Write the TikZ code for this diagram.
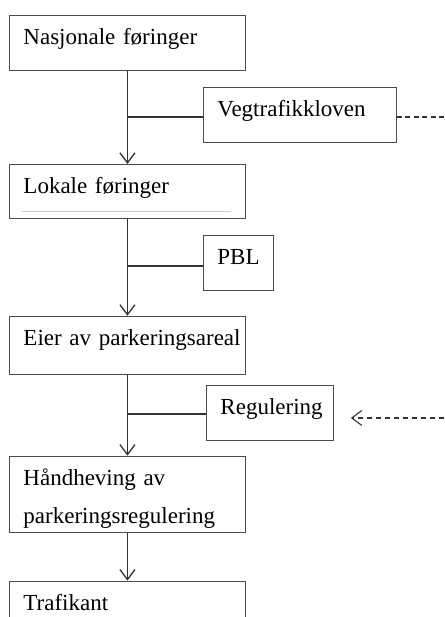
\documentclass[tikz,border=0pt]{standalone}
\usepackage{fontspec}
\setmainfont{Liberation Serif}
\usetikzlibrary{positioning}
\usetikzlibrary{arrows.meta}

\begin{document}
\begin{tikzpicture}[x=1pt, y=1pt, node distance=93pt,
    >={Straight Barb[length=10pt,width=15pt]},
    font=\fontsize{23}{38}\selectfont,
    box/.style={draw=black!70, line width=0.9pt, rectangle, align=left, inner xsep=14pt, inner ysep=0pt, text height=29pt},
    link/.style={draw=black!80, line width=1.3pt}]
    \useasboundingbox (0,0) rectangle (444,-617);
    \coordinate (rightedge) at (444,0);

    % Main chain
    \node (nasjonale) [box, anchor=north west, text width=208pt, text depth=26pt] at (9,-15) {Nasjonale føringer};
    \node (lokale) [box, below=93pt of nasjonale, text width=208pt, text depth=25pt] {Lokale føringer};
    \node (eier) [box, below=97pt of lokale, text width=208pt, text depth=29pt] {\makebox[208pt][l]{Eier av parkeringsareal}};
    \node (handheving) [box, below=81pt of eier, text width=208pt, text depth=47pt] {Håndheving av\\parkeringsregulering};
    \node (trafikant) [box, below=48pt of handheving, text width=208pt, text depth=60pt] {Trafikant};

    % Faint line in the second box
    \draw[black!20, line width=0.6pt] ([xshift=13pt, yshift=7pt]lokale.south west) -- ([xshift=-15pt, yshift=7pt]lokale.south east);

    % Side boxes
    \node (veg) [box, anchor=north west, text width=165pt, text depth=26pt] at (203,-87) {Vegtrafikkloven};
    \node (pbl) [box, anchor=north west, text width=42pt, text depth=26pt] at (203,-235) {PBL};
    \node (regulering) [box, anchor=north west, text width=99pt, text depth=26pt] at (206,-385) {Regulering};

    % Arrows down the chain
    \draw[link, ->] (nasjonale) -- (lokale);
    \draw[link, ->] (lokale) -- (eier);
    \draw[link, ->] (eier) -- (handheving);
    \draw[link, ->] (handheving) -- (trafikant);

    % Side links
    \draw[link, line width=1.6pt] ([yshift=-2pt]veg.west) -- ([yshift=-2pt]veg.west -| nasjonale.south);
    \draw[link] ([yshift=-3pt]pbl.west) -- ([yshift=-3pt]pbl.west -| lokale.south);
    \draw[link] ([yshift=-1pt]regulering.west) -- ([yshift=-1pt]regulering.west -| eier.south);

    % Dashed links to the right
    \draw[link, line width=1.4pt, dash pattern=on 5pt off 3.5pt] ([yshift=-2pt]veg.east) -- ([yshift=-2pt]veg.east -| rightedge);
    \draw[link, line width=1.1pt, dash pattern=on 5pt off 4pt, ->] ([yshift=-5pt]regulering.east -| rightedge) -- ([xshift=17pt, yshift=-5pt]regulering.east);
\end{tikzpicture}
\end{document}
